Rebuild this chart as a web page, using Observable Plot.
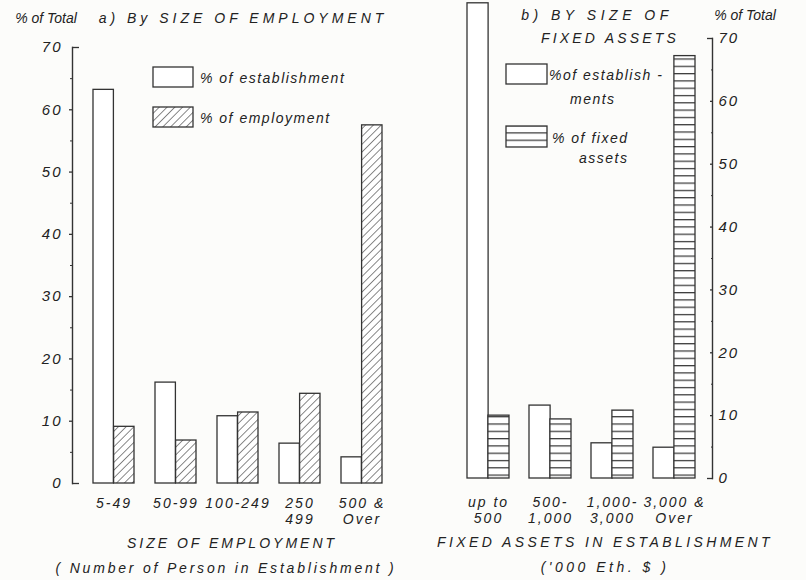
<!DOCTYPE html>
<html><head><meta charset="utf-8">
<script src="https://cdn.jsdelivr.net/npm/d3@7"></script>
<script src="https://cdn.jsdelivr.net/npm/@observablehq/plot@0.6"></script>
<style>
body{margin:0;background:#fcfcfa;}
#wrap{position:relative;width:806px;height:580px;overflow:hidden;font-family:"Liberation Sans",Arial,sans-serif;font-style:italic;color:#222;}
.lbl{position:absolute;white-space:nowrap;line-height:1;}
.plot{position:absolute;top:0;}
.sw{position:absolute;}
</style></head><body>
<svg width="0" height="0" style="position:absolute">
<defs>
<pattern id="hatchDiag" patternUnits="userSpaceOnUse" width="5.5" height="5.5" patternTransform="rotate(45)">
<rect width="5.5" height="5.5" fill="white"/>
<line x1="0" y1="0" x2="0" y2="5.5" stroke="#3a3a3a" stroke-width="1.2"/>
</pattern>
<pattern id="hatchHoriz" patternUnits="userSpaceOnUse" width="10" height="7.3">
<rect width="10" height="7.3" fill="white"/>
<line x1="0" y1="0.6" x2="10" y2="0.6" stroke="#3a3a3a" stroke-width="1.3"/>
</pattern>
</defs></svg>
<div id="wrap"></div>
<script>
// ---- data ----
const empCategories = ["5-49", "50-99", "100-249", "250\n499", "500 &\nOver"];
const empEstablishments = [63.2, 16.2, 10.8, 6.4, 4.2];
const empEmployment = [9.1, 6.9, 11.4, 14.4, 57.5];
const assetCategories = ["up to\n500", "500-\n1,000", "1,000-\n3,000", "3,000 &\nOver"];
const assetEstablishments = [75.6, 11.6, 5.6, 4.9];
const assetFixed = [10.0, 9.4, 10.8, 67.2];
const yTicks = [0, 10, 20, 30, 40, 50, 60, 70];
const yEnds = [0, 70];
const yInner = [10, 20, 30, 40, 50, 60];
const yMinor = [5, 15, 25, 35, 45, 55, 65];

const wrap = document.getElementById("wrap");
const INK = "#333";
const TXT = "#222";
const font = {fontFamily: "'Liberation Sans', Arial, sans-serif", fontSize: "14px", fontStyle: "italic", letterSpacing: "2px", color: TXT, background: "transparent", overflow: "visible"};

// ---- left panel ----
const rowsEmp = empCategories.map((c, i) => ({c, est: empEstablishments[i], emp: empEmployment[i]}));
const left = Plot.plot({
  width: 403, height: 580,
  marginLeft: 72, marginRight: 1, marginTop: 47, marginBottom: 97,
  style: font,
  x: {domain: empCategories, paddingInner: 0.344, paddingOuter: 0.3, axis: null},
  y: {domain: [0, 70], axis: null},
  marks: [
    Plot.barY(rowsEmp, {x: "c", y: "est", fill: "white", stroke: INK, strokeWidth: 1.3, insetRight: 20.6}),
    Plot.barY(rowsEmp, {x: "c", y: "emp", fill: "url(#hatchDiag)", stroke: INK, strokeWidth: 1.3, insetLeft: 20.6}),
    Plot.axisX({label: null, tickSize: 0, tickPadding: 13, lineHeight: 1.15, fontSize: 14, fill: TXT}),
    Plot.axisY({label: null, ticks: yTicks, tickSize: 0, tickPadding: 10, fontSize: 15, fill: TXT}),
    Plot.axisY({label: null, ticks: yEnds, tickSize: -7, stroke: INK, strokeWidth: 1.3, tickFormat: () => ""}),
    Plot.axisY({label: null, ticks: yInner, tickSize: 3, stroke: INK, strokeWidth: 1.3, tickFormat: () => ""}),
    Plot.axisY({label: null, ticks: yMinor, tickSize: 2, stroke: INK, tickFormat: () => ""}),
    Plot.frame({anchor: "left", stroke: INK, strokeWidth: 1.4})
  ]
});
left.classList.add("plot");
left.style.left = "0px";
wrap.appendChild(left);

// ---- right panel ----
const rowsAsset = assetCategories.map((c, i) => ({c, est: assetEstablishments[i], fixed: assetFixed[i]}));
const right = Plot.plot({
  width: 403, height: 580,
  marginLeft: 47, marginRight: 94, marginTop: 38, marginBottom: 102,
  style: font,
  x: {domain: assetCategories, paddingInner: 0.33, paddingOuter: 0.26, axis: null},
  y: {domain: [0, 70], axis: null},
  marks: [
    Plot.barY(rowsAsset, {x: "c", y: "est", fill: "white", stroke: INK, strokeWidth: 1.3, insetRight: 20.9}),
    Plot.barY(rowsAsset, {x: "c", y: "fixed", fill: "url(#hatchHoriz)", stroke: INK, strokeWidth: 1.3, insetLeft: 20.9}),
    Plot.axisX({label: null, tickSize: 0, tickPadding: 17, lineHeight: 1.15, fontSize: 14, fill: TXT}),
    Plot.axisY({label: null, anchor: "right", ticks: yTicks, tickSize: 0, tickPadding: 6, textAnchor: "start", fontSize: 15, fill: TXT}),
    Plot.axisY({label: null, anchor: "right", ticks: yEnds, tickSize: -6, stroke: INK, strokeWidth: 1.3, tickFormat: () => ""}),
    Plot.axisY({label: null, anchor: "right", ticks: yInner, tickSize: -3, stroke: INK, strokeWidth: 1.3, tickFormat: () => ""}),
    Plot.axisY({label: null, anchor: "right", ticks: yMinor, tickSize: -2, stroke: INK, tickFormat: () => ""}),
    Plot.frame({anchor: "right", stroke: INK, strokeWidth: 1.4})
  ]
});
right.classList.add("plot");
right.style.left = "403px";
wrap.appendChild(right);

// ---- text ----
function label(text, x, y, {size = 13, spacing = 0, align = "center"} = {}) {
  const d = document.createElement("div");
  d.className = "lbl";
  d.textContent = text;
  d.style.fontSize = size + "px";
  d.style.letterSpacing = spacing + "px";
  d.style.left = x + "px";
  d.style.top = y + "px";
  d.style.transform = align === "center" ? "translate(-50%,-50%)" : "translate(0,-50%)";
  wrap.appendChild(d);
}
function swatch(x, y, w, h, fill) {
  const s = document.createElementNS("http://www.w3.org/2000/svg", "svg");
  s.setAttribute("class", "sw");
  s.setAttribute("width", w + 2); s.setAttribute("height", h + 2);
  s.style.left = (x - 1) + "px"; s.style.top = (y - 1) + "px";
  s.innerHTML = `<rect x="1" y="1" width="${w}" height="${h}" fill="${fill}" stroke="${INK}" stroke-width="1.3"/>`;
  wrap.appendChild(s);
}

label("% of Total", 46, 18, {size: 14});
label("a) By SIZE OF EMPLOYMENT", 243, 18, {size: 14, spacing: 4});
label("b) BY SIZE OF", 597, 15, {size: 14, spacing: 4.5});
label("FIXED ASSETS", 610, 38, {size: 14, spacing: 3.2});
label("% of Total", 745, 15, {size: 14});

swatch(153, 67, 40, 20, "white");
label("% of establishment", 200, 78, {size: 14, spacing: 1.5, align: "left"});
swatch(153, 107, 40, 20, "url(#hatchDiag)");
label("% of employment", 200, 118, {size: 14, spacing: 1.5, align: "left"});

swatch(506, 64, 41, 20, "white");
label("%of establish -", 549, 75, {size: 14, spacing: 1.5, align: "left"});
label("ments", 570, 99, {size: 14, spacing: 1.5, align: "left"});
swatch(506, 126, 41, 21, "url(#hatchHoriz)");
label("% of fixed", 552, 138, {size: 14, spacing: 1.5, align: "left"});
label("assets", 579, 158, {size: 14, spacing: 1.5, align: "left"});

label("SIZE OF EMPLOYMENT", 232, 543, {size: 14, spacing: 3});
label("( Number of  Person  in  Establishment )", 226, 568, {size: 14, spacing: 2.8});
label("FIXED  ASSETS  IN  ESTABLISHMENT", 605, 542, {size: 14, spacing: 3.4});
label("('000 Eth. $ )", 605, 567, {size: 14, spacing: 3.5});
</script>
</body></html>
